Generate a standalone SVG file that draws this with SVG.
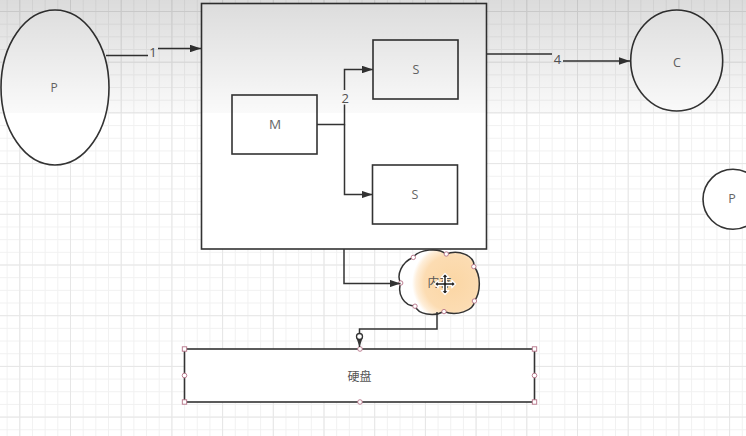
<svg xmlns="http://www.w3.org/2000/svg" width="746" height="436" viewBox="0 0 746 436">
<defs>
<pattern id="gridMinor" x="19.3" y="11" width="12.675" height="12.675" patternUnits="userSpaceOnUse">
<path d="M0.5,0 V12.675 M0,0.5 H12.675" fill="none" stroke="#f1f1f1" stroke-width="1"/>
</pattern>
<pattern id="gridMajor" x="19.3" y="11" width="50.7" height="50.7" patternUnits="userSpaceOnUse">
<path d="M0.5,0 V50.7 M0,0.5 H50.7" fill="none" stroke="#e6e6e6" stroke-width="1"/>
</pattern>
<linearGradient id="shade" x1="0" y1="0" x2="0" y2="1">
<stop offset="0" stop-color="#000" stop-opacity="0.14"/>
<stop offset="1" stop-color="#000" stop-opacity="0.02"/>
</linearGradient>
<radialGradient id="cloudFill" cx="452" cy="283" r="40" gradientUnits="userSpaceOnUse">
<stop offset="0" stop-color="#fbd6a4"/>
<stop offset="0.7" stop-color="#fcdcb2"/>
<stop offset="0.9" stop-color="#feeed9"/>
<stop offset="1" stop-color="#ffffff"/>
</radialGradient>
<marker id="arrow" viewBox="0 0 11 7.5" refX="11" refY="3.75" markerWidth="11" markerHeight="7.5" markerUnits="userSpaceOnUse" orient="auto">
<path d="M0,0 L11,3.75 L0,7.5 Z" fill="#333"/>
</marker>
<style>
.shape{fill:#fff;stroke:#333;stroke-width:1.6}
.conn{fill:none;stroke:#333;stroke-width:1.5}
.lbl{font-family:"Open Sans","Liberation Sans",sans-serif;fill:#666;text-anchor:middle}
.num{font-family:"Open Sans","Liberation Sans",sans-serif;fill:#555;font-size:13px;text-anchor:middle}
.cjk{font-family:"Noto Sans CJK SC","Noto Sans",sans-serif;fill:#555;font-size:12px}
.hc{fill:#fff;stroke:#b57287;stroke-width:0.9}
</style>
</defs>
<rect width="746" height="436" fill="#fff"/>
<rect width="746" height="436" fill="url(#gridMinor)"/>
<rect width="746" height="436" fill="url(#gridMajor)"/>

<g id="node-P-left">
<ellipse class="shape" cx="55" cy="87.5" rx="54" ry="77.5"/>
<text class="lbl" x="54" y="91.7" font-size="12">P</text>
</g>
<g id="node-container">
<rect class="shape" x="201.5" y="3.5" width="285" height="245.5"/>
</g>
<g id="node-M">
<rect class="shape" x="232" y="95" width="85" height="59"/>
<text class="lbl" x="275" y="129.3" font-size="13.5">M</text>
</g>
<g id="node-S-top">
<rect class="shape" x="373" y="40" width="85" height="59"/>
<text class="lbl" x="416" y="74" font-size="12.5">S</text>
</g>
<g id="node-S-bottom">
<rect class="shape" x="372.5" y="165" width="85" height="59"/>
<text class="lbl" x="415" y="199" font-size="12.5">S</text>
</g>
<g id="node-C">
<ellipse class="shape" cx="676.7" cy="60.5" rx="46" ry="50.5"/>
<text class="lbl" x="677" y="66.7" font-size="12.5">C</text>
</g>
<g id="node-P-right">
<circle class="shape" cx="733" cy="199.3" r="30"/>
<text class="lbl" x="732" y="203.3" font-size="12.5">P</text>
</g>
<g id="node-disk">
<rect class="shape" x="184.5" y="349" width="350" height="53"/>
<text class="cjk" x="359.5" y="381" text-anchor="middle">硬盘</text>
<rect class="hc" x="182.3" y="346.8" width="4.4" height="4.4"/>
<rect class="hc" x="532.3" y="346.8" width="4.4" height="4.4"/>
<rect class="hc" x="182.3" y="399.8" width="4.4" height="4.4"/>
<rect class="hc" x="532.3" y="399.8" width="4.4" height="4.4"/>
<circle class="hc" cx="360" cy="349" r="2.3"/>
<circle class="hc" cx="360" cy="402" r="2.3"/>
<circle class="hc" cx="184.5" cy="375.5" r="2.3"/>
<circle class="hc" cx="534.5" cy="375.5" r="2.3"/>
</g>
<g id="node-memory">
<path d="M400.7,283 C396,275 402,262 413,257.5 C419,249 439,247.5 446,254 C459,249 475,256 474,266.5 C481,275 481,292 474.5,301 C474,311 456,316.5 444,311.5 C434,317 418,314.5 415,306 C404,306 397,294 400.7,283 Z" fill="url(#cloudFill)" stroke="#333" stroke-width="1.5"/>
<text class="cjk" x="427.5" y="286.8" font-size="11" fill="#888">内存</text>
<path transform="translate(445,284)" d="M0,-10.5 L3.8,-6.6 L1.4,-6.6 L1.4,-1.4 L6.8,-1.4 L6.8,-3.8 L10.5,0 L6.8,3.8 L6.8,1.4 L1.4,1.4 L1.4,6.6 L3.8,6.6 L0,10.5 L-3.8,6.6 L-1.4,6.6 L-1.4,1.4 L-6.8,1.4 L-6.8,3.8 L-10.5,0 L-6.8,-3.8 L-6.8,-1.4 L-1.4,-1.4 L-1.4,-6.6 L-3.8,-6.6 Z" fill="#222" stroke="#fff" stroke-width="1.3" stroke-linejoin="round"/>
<circle class="hc" cx="413.3" cy="257.4" r="2.2"/>
<circle class="hc" cx="446.3" cy="254" r="2.2"/>
<circle class="hc" cx="473.8" cy="266.6" r="2.2"/>
<circle class="hc" cx="400.7" cy="283" r="2.2"/>
<circle class="hc" cx="474.4" cy="301" r="2.2"/>
<circle class="hc" cx="415" cy="306.2" r="2.2"/>
<circle class="hc" cx="444" cy="311.6" r="2.2"/>
</g>

<g id="connectors">
<path class="conn" d="M106,55.5 H148"/>
<path class="conn" d="M158,48.5 H201" marker-end="url(#arrow)"/>
<text class="num" x="153" y="57.3">1</text>
<path class="conn" d="M317,124.5 H344.5 V69.5 H373" marker-end="url(#arrow)"/>
<path class="conn" d="M344.5,124.5 V194.5 H372.5" marker-end="url(#arrow)"/>
<rect x="339" y="90" width="11" height="14.5" fill="#fff"/>
<text class="num" x="345.2" y="102.7">2</text>
<path class="conn" d="M487,54 H552"/>
<path class="conn" d="M563,61 H630" marker-end="url(#arrow)"/>
<text class="num" x="557.5" y="63.5">4</text>
<path class="conn" d="M344,249 V283.5 H400.5" marker-end="url(#arrow)"/>
<path class="conn" d="M437,312 V329 H359.5 V347" marker-end="url(#arrow)"/>
<circle cx="359.5" cy="336.5" r="3" fill="#fff" stroke="#333" stroke-width="1.3"/>
</g>

<rect x="0" y="0" width="746" height="113" fill="url(#shade)" pointer-events="none"/>
</svg>
